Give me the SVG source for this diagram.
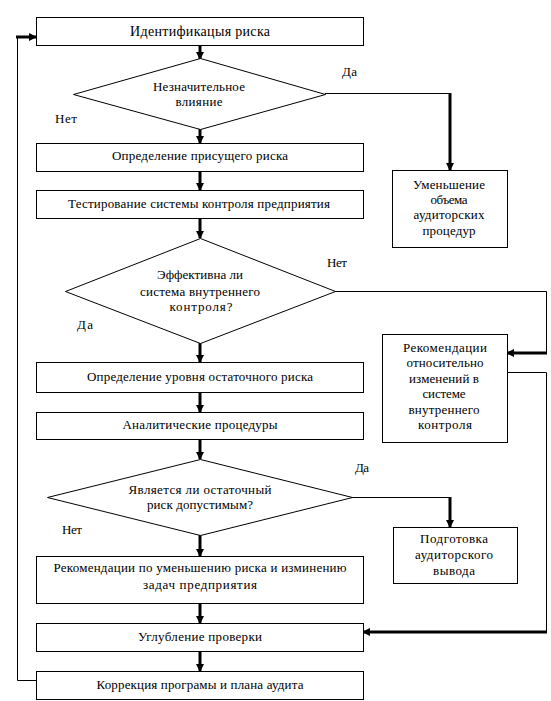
<svg xmlns="http://www.w3.org/2000/svg" width="551" height="701" viewBox="0 0 551 701">
<style>
.box{fill:#fff;stroke:#000;stroke-width:1}
.t{font-family:'Liberation Serif','DejaVu Serif','Times New Roman',serif;font-size:13px;fill:#000;text-anchor:middle}
.l{font-family:'Liberation Serif','DejaVu Serif','Times New Roman',serif;font-size:13px;fill:#000}
.thin{fill:none;stroke:#000;stroke-width:1}
.thick{fill:none;stroke:#000;stroke-width:3;marker-end:url(#ah)}
</style>
<defs>
<marker id="ah" viewBox="0 0 8 8" refX="7" refY="4" markerWidth="8" markerHeight="8" markerUnits="userSpaceOnUse" orient="auto">
<path d="M0,0 L8,4 L0,8 z" fill="#000"/>
</marker>
</defs>
<rect width="551" height="701" fill="#fff"/>
<g id="connectors">
<line class="thick" x1="200" y1="45" x2="200" y2="59"/>
<line class="thick" x1="200" y1="122" x2="200" y2="143"/>
<line class="thick" x1="200" y1="171" x2="200" y2="190"/>
<line class="thick" x1="200" y1="218" x2="200" y2="238"/>
<line class="thick" x1="200" y1="338" x2="200" y2="362"/>
<line class="thick" x1="200" y1="392" x2="200" y2="412"/>
<line class="thick" x1="200" y1="439" x2="200" y2="459"/>
<line class="thick" x1="200" y1="530" x2="200" y2="556"/>
<line class="thick" x1="200" y1="603" x2="200" y2="623"/>
<line class="thick" x1="200" y1="651" x2="200" y2="671"/>
<path class="thin" d="M325,93.5 H450"/>
<line class="thick" x1="450" y1="93" x2="450" y2="170"/>
<path class="thin" d="M335,291.5 H546.5 V353"/>
<line class="thick" x1="547" y1="353" x2="507" y2="353"/>
<path class="thin" d="M507,372.5 H546.5 V632"/>
<line class="thick" x1="547" y1="632" x2="363" y2="632"/>
<path class="thin" d="M352,497.5 H450"/>
<line class="thick" x1="450" y1="497" x2="450" y2="527"/>
<path class="thin" d="M36,680.5 H17.5 V37"/>
<line class="thick" x1="16" y1="37" x2="36" y2="37"/>
</g>
<g id="n1"><rect class="box" x="36.5" y="17.5" width="327" height="28"/><text class="t" x="200" y="36" style="font-size:14px" textLength="140">Идентификацыя риска</text></g>
<g id="d1"><polygon class="box" points="200.5,58.5 325.5,94.5 200.5,129.5 73.5,94.5"/><text class="t" x="199" y="91" textLength="92">Незначительное</text><text class="t" x="199" y="106" textLength="47">влияние</text></g>
<text class="l" x="342" y="76" textLength="15">Да</text>
<text class="l" x="55" y="123" textLength="22">Нет</text>
<g id="n2"><rect class="box" x="36.5" y="143.5" width="327" height="28"/><text class="t" x="200" y="160" textLength="176">Определение присущего риска</text></g>
<g id="n3"><rect class="box" x="36.5" y="190.5" width="327" height="28"/><text class="t" x="199" y="208" textLength="262">Тестирование системы контроля предприятия</text></g>
<g id="n4"><rect class="box" x="392.5" y="170.5" width="115" height="77"/><text class="t" x="449" y="189" textLength="72">Уменьшение</text><text class="t" x="449" y="204" textLength="37">объема</text><text class="t" x="449" y="219" textLength="71">аудиторских</text><text class="t" x="449" y="235" textLength="53">процедур</text></g>
<g id="d2"><polygon class="box" points="200.5,238.5 335.5,291.5 200.5,343.5 65.5,291.5"/><text class="t" x="200" y="279" textLength="86">Эффективна ли</text><text class="t" x="200" y="296" textLength="120">система внутреннего</text><text class="t" x="201" y="311" textLength="63">контроля?</text></g>
<text class="l" x="327" y="267" textLength="20">Нет</text>
<text class="l" x="77" y="329" textLength="16">Да</text>
<g id="n5"><rect class="box" x="382.5" y="334.5" width="125" height="108"/><text class="t" x="445" y="352" textLength="84">Рекомендации</text><text class="t" x="445" y="367" textLength="77">относительно</text><text class="t" x="444" y="383" textLength="70">изменений в</text><text class="t" x="444" y="398" textLength="43">системе</text><text class="t" x="444" y="414" textLength="71">внутреннего</text><text class="t" x="445" y="429" textLength="54">контроля</text></g>
<g id="n6"><rect class="box" x="36.5" y="362.5" width="327" height="30"/><text class="t" x="200" y="381" textLength="226">Определение уровня остаточного риска</text></g>
<g id="n7"><rect class="box" x="36.5" y="412.5" width="327" height="27"/><text class="t" x="200" y="429" textLength="155">Аналитические процедуры</text></g>
<g id="d3"><polygon class="box" points="200.5,459.5 352.5,497.5 200.5,535.5 47.5,497.5"/><text class="t" x="200" y="494" textLength="143">Является  ли остаточный</text><text class="t" x="200" y="509" textLength="106">риск допустимым?</text></g>
<text class="l" x="355" y="472" textLength="14">Да</text>
<text class="l" x="62" y="534" textLength="20">Нет</text>
<g id="n8"><rect class="box" x="393.5" y="527.5" width="124" height="56"/><text class="t" x="454" y="543" textLength="68">Подготовка</text><text class="t" x="454" y="559" textLength="78">аудиторского</text><text class="t" x="454" y="575" textLength="42">вывода</text></g>
<g id="n9"><rect class="box" x="36.5" y="556.5" width="327" height="47"/><text class="t" x="200" y="572" textLength="293">Рекомендации по уменьшению риска и изминению</text><text class="t" x="200" y="589" textLength="114">задач предприятия</text></g>
<g id="n10"><rect class="box" x="36.5" y="623.5" width="327" height="28"/><text class="t" x="200" y="641" textLength="124">Углубление проверки</text></g>
<g id="n11"><rect class="box" x="36.5" y="671.5" width="327" height="28"/><text class="t" x="200" y="689" textLength="207">Коррекция програмы и плана аудита</text></g>
</svg>
